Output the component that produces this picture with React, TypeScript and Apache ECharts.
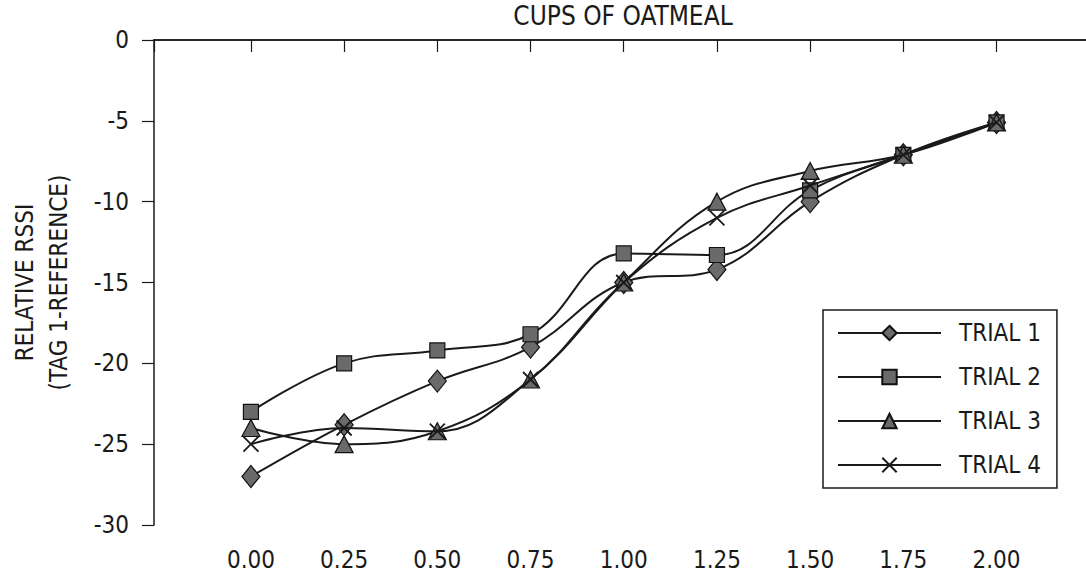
import React, { useEffect, useRef } from "react";
import * as echarts from "echarts";

const xValues = [0, 0.25, 0.5, 0.75, 1.0, 1.25, 1.5, 1.75, 2.0];
const xTickLabels = [0, 0.25, 0.5, 0.75, 1.0, 1.25, 1.5, 1.75, 2.0];
const yTicks = [0, -5, -10, -15, -20, -25, -30];
const seriesNames = ["TRIAL 1", "TRIAL 2", "TRIAL 3", "TRIAL 4"];
const trial1 = [-27, -23.8, -21.1, -19, -15, -14.2, -10, -7.1, -5.1];
const trial2 = [-23, -20, -19.2, -18.2, -13.2, -13.3, -9.3, -7.1, -5.1];
const trial3 = [-24, -25, -24.2, -21, -15, -10, -8.1, -7.1, -5.1];
const trial4 = [-25, -24, -24.2, -21, -15, -11, -9, -7.1, -5.1];
const chartTitle = "CUPS OF OATMEAL";
const yAxisName = "RELATIVE RSSI\n(TAG 1-REFERENCE)";

const FONT = "'Liberation Sans Narrow', 'Arial Narrow', 'DejaVu Sans Condensed', sans-serif";
const INK = "#1a1a1a";
const MARKER_FILL = "#6a6a6a";

export default function App() {
  const ref = useRef<HTMLDivElement>(null);

  useEffect(() => {
    if (!ref.current) return;
    const chart = echarts.init(ref.current, undefined, { renderer: "svg" });
    const xMin = -0.26;
    const xMax = 2.24;
    const pair = (ys: number[]) => xValues.map((x, i) => [x, ys[i]]);
    const symbols = ["diamond", "rect", "triangle", "path://M0,0 L10,10 M10,0 L0,10"];
    const sizes = [[18, 22], 15, [18, 17], 15];
    const datas = [trial1, trial2, trial3, trial4];

    const option: any = {
      animation: false,
      backgroundColor: "#ffffff",
      textStyle: { fontFamily: FONT },
      grid: { left: 147, right: 0, top: 40, bottom: 57, containLabel: false },
      graphic: [
        {
          type: "text",
          x: 623,
          y: 16,
          style: {
            text: chartTitle,
            fontSize: 26,
            fontFamily: FONT,
            fill: INK,
            align: "center",
            verticalAlign: "middle",
          },
        },
      ],
      xAxis: [
        {
          type: "value",
          min: xMin,
          max: xMax,
          position: "bottom",
          axisLine: { show: true, lineStyle: { color: INK, width: 1.5 } },
          axisTick: {
            show: true,
            length: 12,
            inside: false,
            customValues: [xMin, ...xTickLabels],
            lineStyle: { color: INK, width: 1.2 },
          },
          axisLabel: {
            customValues: xTickLabels,
            formatter: (v: number) => v.toFixed(2),
            fontSize: 24,
            fontFamily: FONT,
            color: INK,
            margin: 23,
          },
          splitLine: { show: false },
        },
        {
          type: "value",
          min: xMin,
          max: xMax,
          position: "top",
          axisLine: { show: true, lineStyle: { color: INK, width: 1.5 } },
          axisTick: { show: false },
          axisLabel: { show: false },
          splitLine: { show: false },
        },
      ],
      yAxis: {
        type: "value",
        min: -30,
        max: 0,
        interval: 5,
        axisLine: { show: true, onZero: false, lineStyle: { color: INK, width: 1.5 } },
        axisTick: { show: true, length: 12, lineStyle: { color: INK, width: 1.2 } },
        axisLabel: {
          fontSize: 24,
          fontFamily: FONT,
          color: INK,
          margin: 25,
          formatter: (v: number) => String(v),
        },
        splitLine: { show: false },
        name: yAxisName,
        nameLocation: "middle",
        nameRotate: 90,
        nameGap: 78,
        nameTextStyle: {
          fontSize: 24,
          fontFamily: FONT,
          color: INK,
          lineHeight: 34,
          align: "center",
        },
      },
      legend: {
        orient: "vertical",
        left: 823,
        top: 310,
        padding: [8, 16, 8, 14],
        itemGap: 14,
        itemWidth: 103,
        itemHeight: 18,
        borderColor: INK,
        borderWidth: 1.5,
        backgroundColor: "#ffffff",
        textStyle: {
          fontSize: 24,
          fontFamily: FONT,
          color: INK,
          lineHeight: 30,
          padding: [0, 0, 0, 13],
        },
        data: seriesNames,
      },
      series: seriesNames.map((name, i) => ({
        name,
        type: "line",
        xAxisIndex: 0,
        data: pair(datas[i]),
        smooth: 0.4,
        symbol: symbols[i],
        symbolSize: sizes[i],
        showAllSymbol: true,
        lineStyle: { color: INK, width: 2 },
        itemStyle:
          i === 3
            ? { color: INK, borderColor: INK, borderWidth: 1.8 }
            : { color: MARKER_FILL, borderColor: "#111", borderWidth: 1.2 },
        emphasis: { disabled: true },
        z: 2 + i,
      })),
    };
    chart.setOption(option);
    return () => chart.dispose();
  }, []);

  return (
    <div
      ref={ref}
      style={{ position: "fixed", left: 0, top: 0, width: 1086, height: 582 }}
    />
  );
}
